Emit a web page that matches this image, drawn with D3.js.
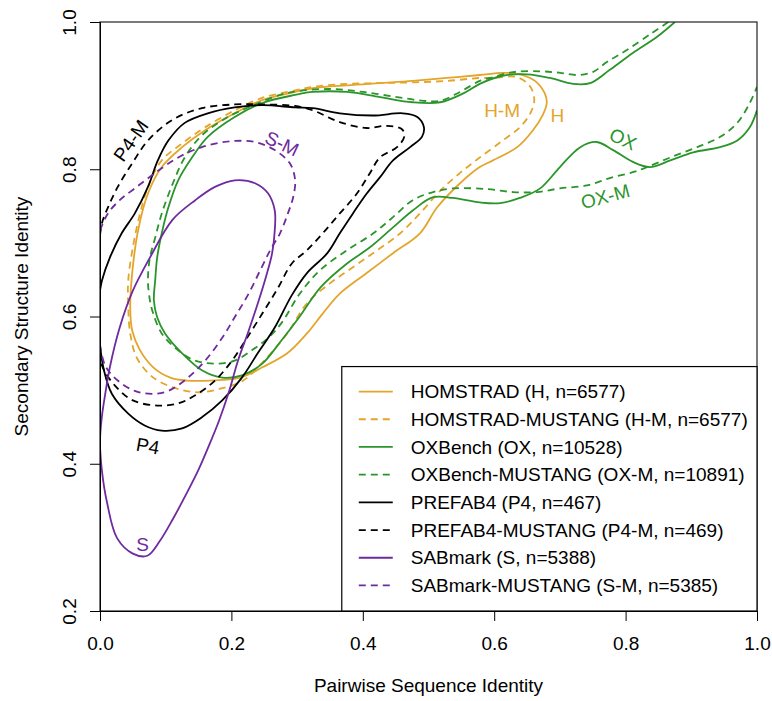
<!DOCTYPE html>
<html>
<head>
<meta charset="utf-8">
<script src="https://cdn.jsdelivr.net/npm/d3@7"></script>
<style>
  body { margin: 0; background: #fff; }
  svg { font-family: "Liberation Sans", Arial, Helvetica, sans-serif; }
  .axis text { font-size: 19px; fill: #000; }
  .axis path, .axis line { stroke: #000; stroke-width: 1; }
</style>
</head>
<body>
<div id="chart"></div>
<script>
// Density contours of secondary structure identity vs pairwise sequence identity,
// one contour per benchmark (solid) and its MUSTANG re-alignment (dashed).
// Points are [sequence identity, SS identity].

const GOLD = "#E3A52A", GREEN = "#2A952A", BLACK = "#000000", PURPLE = "#6E2A9E";

const xTicks = [0, 0.2, 0.4, 0.6, 0.8, 1.0];
const yTicks = [0.2, 0.4, 0.6, 0.8, 1.0];

const homstrad = [
  [.046,.612],[.049,.659],[.058,.717],[.073,.767],[.094,.803],[.125,.830],[.160,.853],[.205,.876],
  [.247,.894],[.297,.905],[.324,.910],[.376,.914],[.426,.917],[.476,.920],[.528,.924],[.578,.928],
  [.613,.931],[.639,.929],[.662,.920],[.677,.903],[.680,.890],[.674,.874],[.659,.853],[.635,.830],
  [.598,.812],[.578,.803],[.548,.781],[.513,.748],[.487,.713],[.446,.686],[.406,.659],[.365,.631],
  [.339,.604],[.315,.577],[.285,.550],[.247,.531],[.213,.517],[.167,.513],[.132,.513],[.107,.517],
  [.081,.531],[.061,.554],[.049,.581]
];
const homstradM = [
  [.043,.612],[.043,.649],[.050,.694],[.061,.740],[.073,.776],[.094,.812],[.125,.835],[.160,.857],
  [.205,.880],[.247,.897],[.297,.907],[.324,.912],[.376,.916],[.426,.917],[.476,.918],[.528,.920],
  [.578,.924],[.598,.924],[.635,.925],[.655,.912],[.661,.894],[.655,.876],[.639,.857],[.613,.839],
  [.578,.816],[.548,.795],[.518,.771],[.487,.740],[.457,.713],[.422,.690],[.385,.667],[.350,.645],
  [.315,.618],[.285,.577],[.254,.544],[.218,.513],[.183,.502],[.152,.497],[.117,.502],[.081,.517],
  [.056,.544],[.046,.577]
];
const oxbench = [
  [.875,1.0],[.848,.980],[.811,.958],[.776,.935],[.746,.917],[.720,.916],[.685,.924],[.650,.929],
  [.613,.927],[.578,.916],[.553,.903],[.518,.891],[.476,.891],[.426,.898],[.376,.905],[.324,.905],
  [.297,.901],[.247,.890],[.205,.871],[.164,.844],[.140,.816],[.119,.785],[.104,.748],[.094,.713],
  [.087,.680],[.084,.649],[.082,.622],[.087,.599],[.099,.577],[.125,.550],[.155,.527],[.186,.517],
  [.216,.520],[.247,.536],[.274,.565],[.304,.600],[.335,.639],[.376,.672],[.411,.694],[.446,.721],
  [.476,.744],[.507,.762],[.537,.761],[.578,.755],[.609,.754],[.639,.761],[.670,.774],[.700,.803],
  [.731,.830],[.756,.837],[.781,.826],[.811,.810],[.837,.803],[.868,.812],[.903,.823],[.944,.830],
  [.970,.839],[.989,.857],[1.0,.880]
];
const oxbenchM = [
  [.865,1.0],[.840,.985],[.802,.962],[.772,.946],[.750,.932],[.726,.928],[.700,.931],[.670,.933],
  [.629,.932],[.598,.925],[.578,.920],[.548,.905],[.518,.893],[.492,.893],[.452,.898],[.400,.905],
  [.350,.909],[.300,.906],[.274,.901],[.236,.888],[.195,.871],[.155,.846],[.129,.816],[.111,.781],
  [.094,.740],[.084,.707],[.076,.680],[.073,.649],[.076,.622],[.081,.604],[.094,.577],[.119,.554],
  [.145,.540],[.175,.536],[.205,.540],[.231,.554],[.256,.571],[.277,.592],[.304,.631],[.335,.663],
  [.376,.690],[.416,.713],[.446,.735],[.476,.758],[.507,.769],[.537,.774],[.589,.773],[.629,.769],
  [.665,.769],[.700,.774],[.741,.778],[.776,.788],[.811,.796],[.833,.803],[.868,.816],[.909,.830],
  [.944,.844],[.970,.863],[.989,.890],[1.0,.912]
];
const prefab4 = [
  [0,.635],[.003,.649],[.015,.680],[.033,.713],[.053,.740],[.073,.776],[.088,.812],[.104,.839],
  [.129,.863],[.164,.876],[.205,.884],[.247,.887],[.297,.884],[.324,.883],[.365,.876],[.416,.873],
  [.461,.876],[.483,.871],[.493,.857],[.490,.844],[.472,.830],[.446,.812],[.426,.789],[.406,.767],
  [.385,.740],[.365,.713],[.346,.686],[.315,.659],[.292,.629],[.266,.585],[.240,.550],[.216,.517],
  [.186,.486],[.155,.463],[.125,.448],[.094,.445],[.068,.452],[.043,.468],[.018,.495],[.006,.527],
  [0,.561]
];
const prefab4M = [
  [0,.710],[.003,.727],[.012,.748],[.027,.776],[.049,.808],[.073,.839],[.110,.867],[.155,.883],
  [.205,.888],[.247,.888],[.297,.886],[.324,.880],[.365,.864],[.406,.856],[.437,.859],[.460,.854],
  [.463,.844],[.452,.830],[.426,.816],[.411,.795],[.391,.767],[.365,.740],[.339,.713],[.315,.690],
  [.292,.672],[.271,.639],[.247,.604],[.221,.567],[.201,.540],[.175,.513],[.145,.493],[.119,.482],
  [.087,.479],[.050,.486],[.026,.503],[.008,.524],[0,.540]
];
const sabmark = [
  [0,.431],[.003,.465],[.008,.495],[.015,.531],[.030,.585],[.050,.635],[.076,.680],[.110,.731],
  [.145,.758],[.175,.776],[.205,.785],[.236,.781],[.256,.767],[.266,.744],[.266,.717],[.262,.686],
  [.253,.655],[.241,.620],[.226,.580],[.210,.540],[.196,.497],[.181,.458],[.166,.425],[.150,.392],
  [.132,.360],[.111,.325],[.091,.295],[.072,.275],[.050,.278],[.026,.299],[.011,.346],[.003,.390]
];
const sabmarkM = [
  [0,.717],[.012,.740],[.030,.758],[.053,.774],[.084,.795],[.119,.816],[.155,.830],[.198,.838],
  [.236,.837],[.266,.826],[.289,.808],[.297,.785],[.294,.762],[.286,.740],[.274,.713],[.259,.690],
  [.244,.663],[.225,.629],[.205,.599],[.186,.571],[.160,.540],[.134,.517],[.104,.499],[.079,.495],
  [.053,.499],[.027,.513],[.008,.533],[0,.561]
];

const series = [
  { name: "HOMSTRAD (H, n=6577)", color: GOLD, dashed: false, closed: true, pts: homstrad },
  { name: "HOMSTRAD-MUSTANG (H-M, n=6577)", color: GOLD, dashed: true, closed: true, pts: homstradM },
  { name: "OXBench (OX, n=10528)", color: GREEN, dashed: false, closed: false, pts: oxbench },
  { name: "OXBench-MUSTANG (OX-M, n=10891)", color: GREEN, dashed: true, closed: false, pts: oxbenchM },
  { name: "PREFAB4 (P4, n=467)", color: BLACK, dashed: false, closed: false, pts: prefab4 },
  { name: "PREFAB4-MUSTANG (P4-M, n=469)", color: BLACK, dashed: true, closed: false, pts: prefab4M },
  { name: "SABmark (S, n=5388)", color: PURPLE, dashed: false, closed: true, pts: sabmark },
  { name: "SABmark-MUSTANG (S-M, n=5385)", color: PURPLE, dashed: true, closed: false, pts: sabmarkM }
];

// in-plot contour labels: [text, x, y, rotation, colour]
const labels = [
  ["P4-M", .047, .839, -55, BLACK],
  ["S-M", .277, .835, 25, PURPLE],
  ["H-M", .612, .880, 0, GOLD],
  ["H", .696, .873, 0, GOLD],
  ["OX", .796, .841, 25, GREEN],
  ["OX-M", .769, .763, -15, GREEN],
  ["P4", .073, .424, 10, BLACK],
  ["S", .065, .291, 0, PURPLE]
];

const W = 772, H = 701;
const m = { top: 22, right: 15, bottom: 90, left: 100 };
const iw = W - m.left - m.right, ih = H - m.top - m.bottom;
const x = d3.scaleLinear([0, 1], [0, iw]);
const y = d3.scaleLinear([0.2, 1], [ih, 0]);

const svg = d3.select("#chart").append("svg").attr("width", W).attr("height", H);
svg.append("defs").append("clipPath").attr("id", "plot-clip")
  .append("rect").attr("width", iw).attr("height", ih);
const g = svg.append("g").attr("transform", `translate(${m.left},${m.top})`);

const curves = g.append("g").attr("clip-path", "url(#plot-clip)");
series.forEach((s) => {
  const line = d3.line().x((d) => x(d[0])).y((d) => y(d[1]))
    .curve(s.closed ? d3.curveCatmullRomClosed : d3.curveCatmullRom);
  curves.append("path").datum(s.pts).attr("d", line)
    .attr("fill", "none").attr("stroke", s.color).attr("stroke-width", 1.8)
    .attr("stroke-dasharray", s.dashed ? "7 5" : null);
});

labels.forEach(([t, lx, ly, rot, col]) => {
  g.append("text").attr("transform", `translate(${x(lx)},${y(ly)}) rotate(${rot})`)
    .attr("text-anchor", "middle").attr("dy", "0.35em")
    .attr("font-size", 19).attr("fill", col).text(t);
});

// box + axes
g.append("rect").attr("width", iw).attr("height", ih).attr("fill", "none")
  .attr("stroke", "#222").attr("stroke-width", 1.2);
g.append("g").attr("class", "axis").attr("transform", `translate(0,${ih})`)
  .call(d3.axisBottom(x).tickValues(xTicks).tickFormat(d3.format(".1f")).tickSize(10).tickPadding(16));
const ya = g.append("g").attr("class", "axis")
  .call(d3.axisLeft(y).tickValues(yTicks).tickFormat(d3.format(".1f")).tickSize(10).tickPadding(0));
ya.selectAll(".tick text").attr("text-anchor", "middle").attr("x", 0).attr("dy", 0)
  .attr("transform", "translate(-24,0) rotate(-90)");

g.append("text").attr("x", iw / 2).attr("y", ih + 81).attr("text-anchor", "middle")
  .attr("font-size", 19).text("Pairwise Sequence Identity");
g.append("text").attr("transform", `translate(${-72},${ih / 2}) rotate(-90)`).attr("text-anchor", "middle")
  .attr("font-size", 19).text("Secondary Structure Identity");

// legend, bottom right
const lg = g.append("g").attr("transform", `translate(${x(0.368)},${y(0.532)})`);
const lw = iw - x(0.368), lh = ih - y(0.532);
lg.append("rect").attr("width", lw).attr("height", lh).attr("fill", "#fff")
  .attr("stroke", "#000").attr("stroke-width", 1.2);
series.forEach((s, i) => {
  const ry = 25 + i * 27.7;
  lg.append("line").attr("x1", 17).attr("x2", 51).attr("y1", ry).attr("y2", ry)
    .attr("stroke", s.color).attr("stroke-width", 1.8)
    .attr("stroke-dasharray", s.dashed ? "7 5" : null);
  lg.append("text").attr("x", 69).attr("y", ry).attr("dy", "0.35em")
    .attr("font-size", 19).text(s.name);
});
</script>
</body>
</html>
